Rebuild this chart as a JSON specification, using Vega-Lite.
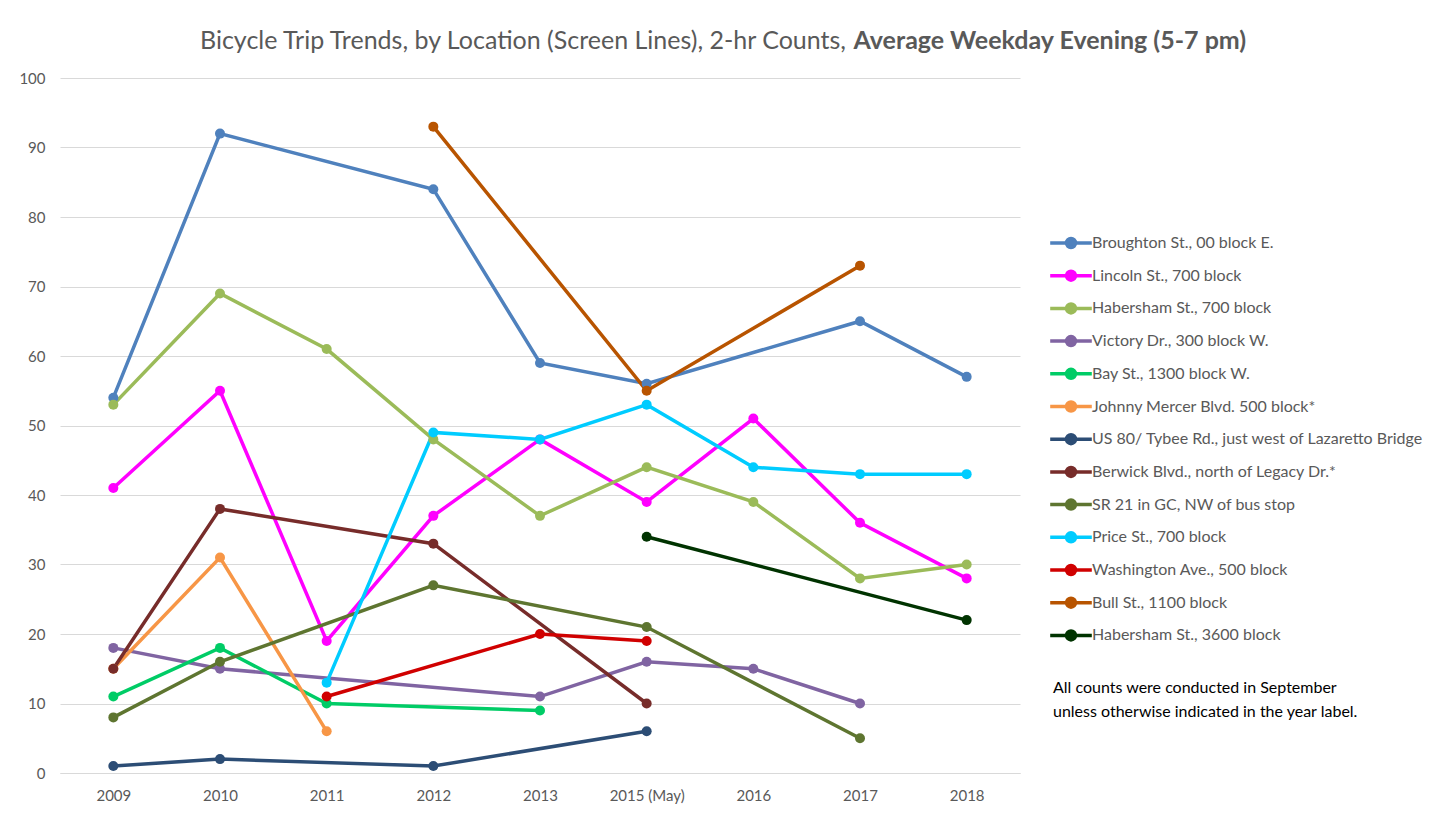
{
  "$schema": "https://vega.github.io/schema/vega-lite/v6.json",
  "width": 960,
  "height": 695,
  "autosize": {"type": "none"},
  "padding": {"left": 60, "top": 78, "right": 427, "bottom": 43},
  "background": "white",
  "config": {
    "font": "Lato",
    "view": {"stroke": null},
    "axis": {"labelFont": "Lato", "labelColor": "#595959", "labelFontSize": 15}
  },
  "title": {
    "text": "Bicycle Trip Trends, by Location (Screen Lines), 2-hr Counts,",
    "anchor": "start",
    "frame": "group",
    "dx": 140,
    "offset": -46,
    "baseline": "alphabetic",
    "font": "Lato",
    "fontSize": 25,
    "fontWeight": "normal",
    "color": "#595959"
  },
  "data": {
    "values": [
      {"loc": "Broughton St., 00 block E.", "year": "2009", "count": 54},
      {"loc": "Broughton St., 00 block E.", "year": "2010", "count": 92},
      {"loc": "Broughton St., 00 block E.", "year": "2012", "count": 84},
      {"loc": "Broughton St., 00 block E.", "year": "2013", "count": 59},
      {"loc": "Broughton St., 00 block E.", "year": "2015 (May)", "count": 56},
      {"loc": "Broughton St., 00 block E.", "year": "2017", "count": 65},
      {"loc": "Broughton St., 00 block E.", "year": "2018", "count": 57},
      {"loc": "Lincoln St., 700 block", "year": "2009", "count": 41},
      {"loc": "Lincoln St., 700 block", "year": "2010", "count": 55},
      {"loc": "Lincoln St., 700 block", "year": "2011", "count": 19},
      {"loc": "Lincoln St., 700 block", "year": "2012", "count": 37},
      {"loc": "Lincoln St., 700 block", "year": "2013", "count": 48},
      {"loc": "Lincoln St., 700 block", "year": "2015 (May)", "count": 39},
      {"loc": "Lincoln St., 700 block", "year": "2016", "count": 51},
      {"loc": "Lincoln St., 700 block", "year": "2017", "count": 36},
      {"loc": "Lincoln St., 700 block", "year": "2018", "count": 28},
      {"loc": "Habersham St., 700 block", "year": "2009", "count": 53},
      {"loc": "Habersham St., 700 block", "year": "2010", "count": 69},
      {"loc": "Habersham St., 700 block", "year": "2011", "count": 61},
      {"loc": "Habersham St., 700 block", "year": "2012", "count": 48},
      {"loc": "Habersham St., 700 block", "year": "2013", "count": 37},
      {"loc": "Habersham St., 700 block", "year": "2015 (May)", "count": 44},
      {"loc": "Habersham St., 700 block", "year": "2016", "count": 39},
      {"loc": "Habersham St., 700 block", "year": "2017", "count": 28},
      {"loc": "Habersham St., 700 block", "year": "2018", "count": 30},
      {"loc": "Victory Dr., 300 block W.", "year": "2009", "count": 18},
      {"loc": "Victory Dr., 300 block W.", "year": "2010", "count": 15},
      {"loc": "Victory Dr., 300 block W.", "year": "2013", "count": 11},
      {"loc": "Victory Dr., 300 block W.", "year": "2015 (May)", "count": 16},
      {"loc": "Victory Dr., 300 block W.", "year": "2016", "count": 15},
      {"loc": "Victory Dr., 300 block W.", "year": "2017", "count": 10},
      {"loc": "Bay St., 1300 block W.", "year": "2009", "count": 11},
      {"loc": "Bay St., 1300 block W.", "year": "2010", "count": 18},
      {"loc": "Bay St., 1300 block W.", "year": "2011", "count": 10},
      {"loc": "Bay St., 1300 block W.", "year": "2013", "count": 9},
      {"loc": "Johnny Mercer Blvd. 500 block*", "year": "2009", "count": 15},
      {"loc": "Johnny Mercer Blvd. 500 block*", "year": "2010", "count": 31},
      {"loc": "Johnny Mercer Blvd. 500 block*", "year": "2011", "count": 6},
      {"loc": "US 80/ Tybee Rd., just west of Lazaretto Bridge", "year": "2009", "count": 1},
      {"loc": "US 80/ Tybee Rd., just west of Lazaretto Bridge", "year": "2010", "count": 2},
      {"loc": "US 80/ Tybee Rd., just west of Lazaretto Bridge", "year": "2012", "count": 1},
      {"loc": "US 80/ Tybee Rd., just west of Lazaretto Bridge", "year": "2015 (May)", "count": 6},
      {"loc": "Berwick Blvd., north of Legacy Dr.*", "year": "2009", "count": 15},
      {"loc": "Berwick Blvd., north of Legacy Dr.*", "year": "2010", "count": 38},
      {"loc": "Berwick Blvd., north of Legacy Dr.*", "year": "2012", "count": 33},
      {"loc": "Berwick Blvd., north of Legacy Dr.*", "year": "2015 (May)", "count": 10},
      {"loc": "SR 21 in GC, NW of bus stop", "year": "2009", "count": 8},
      {"loc": "SR 21 in GC, NW of bus stop", "year": "2010", "count": 16},
      {"loc": "SR 21 in GC, NW of bus stop", "year": "2012", "count": 27},
      {"loc": "SR 21 in GC, NW of bus stop", "year": "2015 (May)", "count": 21},
      {"loc": "SR 21 in GC, NW of bus stop", "year": "2017", "count": 5},
      {"loc": "Price St., 700 block", "year": "2011", "count": 13},
      {"loc": "Price St., 700 block", "year": "2012", "count": 49},
      {"loc": "Price St., 700 block", "year": "2013", "count": 48},
      {"loc": "Price St., 700 block", "year": "2015 (May)", "count": 53},
      {"loc": "Price St., 700 block", "year": "2016", "count": 44},
      {"loc": "Price St., 700 block", "year": "2017", "count": 43},
      {"loc": "Price St., 700 block", "year": "2018", "count": 43},
      {"loc": "Washington Ave., 500 block", "year": "2011", "count": 11},
      {"loc": "Washington Ave., 500 block", "year": "2013", "count": 20},
      {"loc": "Washington Ave., 500 block", "year": "2015 (May)", "count": 19},
      {"loc": "Bull St., 1100 block", "year": "2012", "count": 93},
      {"loc": "Bull St., 1100 block", "year": "2015 (May)", "count": 55},
      {"loc": "Bull St., 1100 block", "year": "2017", "count": 73},
      {"loc": "Habersham St., 3600 block", "year": "2015 (May)", "count": 34},
      {"loc": "Habersham St., 3600 block", "year": "2018", "count": 22}
    ]
  },
  "encoding": {
    "x": {
      "field": "year",
      "type": "ordinal",
      "scale": {"type": "point", "padding": 0.5, "domain": ["2009", "2010", "2011", "2012", "2013", "2015 (May)", "2016", "2017", "2018"]},
      "axis": {"title": null, "labelAngle": 0, "domain": true, "domainColor": "#D9D9D9", "domainWidth": 1, "ticks": false, "grid": false, "labelPadding": 15}
    },
    "y": {
      "field": "count",
      "type": "quantitative",
      "scale": {"domain": [0, 100], "nice": false},
      "axis": {
        "values": [0, 10, 20, 30, 40, 50, 60, 70, 80, 90, 100],
        "domain": false,
        "ticks": false,
        "grid": true,
        "gridColor": "#D9D9D9",
        "gridWidth": 1,
        "labelPadding": 15,
        "title": "Average Weekday Evening (5-7 pm)",
        "titleAngle": 0,
        "titleX": 793,
        "titleY": -30,
        "titleAlign": "left",
        "titleBaseline": "alphabetic",
        "titleLimit": 700,
        "titleFont": "Lato",
        "titleFontSize": 25,
        "titleFontWeight": "bold",
        "titleColor": "#595959"
      }
    },
    "color": {
      "field": "loc",
      "type": "nominal",
      "scale": {
        "domain": ["Broughton St., 00 block E.", "Lincoln St., 700 block", "Habersham St., 700 block", "Victory Dr., 300 block W.", "Bay St., 1300 block W.", "Johnny Mercer Blvd. 500 block*", "US 80/ Tybee Rd., just west of Lazaretto Bridge", "Berwick Blvd., north of Legacy Dr.*", "SR 21 in GC, NW of bus stop", "Price St., 700 block", "Washington Ave., 500 block", "Bull St., 1100 block", "Habersham St., 3600 block"],
        "range": ["#4F81BD", "#FF00FF", "#9BBB59", "#8064A2", "#00CC66", "#F79646", "#2C4D75", "#772C2A", "#5E7530", "#00CCFF", "#D00000", "#B85400", "#003300"]
      },
      "legend": {
        "title": ["All counts were conducted in September", "unless otherwise indicated in the year label."],
        "titleOrient": "bottom",
        "titleAnchor": "start",
        "titleFont": "Lato",
        "titleFontSize": 16,
        "titleFontWeight": "normal",
        "titleColor": "#000000",
        "titleLineHeight": 24,
        "titlePadding": 33,
        "titleLimit": 420,
        "orient": "none",
        "legendX": 993,
        "legendY": 147,
        "padding": 0,
        "symbolType": "M-1.3,0L1.3,0M-0.28,0A0.28,0.28,0,1,1,0.28,0A0.28,0.28,0,1,1,-0.28,0Z",
        "symbolSize": 1024,
        "symbolStrokeWidth": 3.5,
        "labelOffset": 3,
        "labelFont": "Lato",
        "labelFontSize": 16,
        "labelColor": "#595959",
        "labelLimit": 420,
        "rowPadding": 2.7,
        "encode": {
          "symbols": {"update": {"fill": {"scale": "color", "field": "value"}, "fillOpacity": {"value": 1}}}
        }
      }
    }
  },
  "layer": [
    {"mark": {"type": "line", "strokeWidth": 3.5}},
    {"mark": {"type": "point", "filled": true, "size": 100, "opacity": 1}}
  ]
}
